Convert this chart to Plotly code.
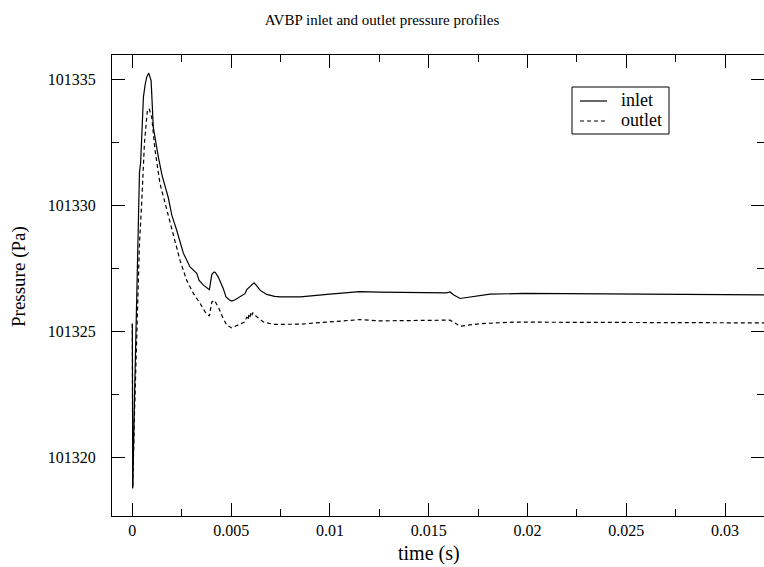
import plotly.graph_objects as go

# Inlet pressure history
t_inlet = [0, 0.00002, 0.0001, 0.00019, 0.00025, 0.0003, 0.00036, 0.00042, 0.0005,
           0.00056, 0.00065, 0.00073, 0.00083, 0.00095, 0.00106, 0.0012, 0.00132,
           0.0015, 0.00166, 0.00182, 0.002, 0.00225, 0.00258, 0.00292, 0.00326,
           0.00338, 0.0036, 0.0039, 0.00402, 0.00412, 0.00419, 0.00435, 0.0046,
           0.00474, 0.0049, 0.00503, 0.0052, 0.00537, 0.0057, 0.00579, 0.006,
           0.00616, 0.0063, 0.00646, 0.0068, 0.0072, 0.00748, 0.0085, 0.01, 0.0115,
           0.0125, 0.0159, 0.01608, 0.01625, 0.01659, 0.0169, 0.01726, 0.0181,
           0.0198, 0.0243, 0.0294, 0.032]
p_inlet = [101325.3, 101318.8, 101322.0, 101325.2, 101328.5, 101330.4, 101331.3,
           101331.7, 101333.2, 101334.3, 101334.8, 101335.1, 101335.25, 101334.95,
           101333.1, 101332.4, 101331.9, 101331.2, 101330.75, 101330.3, 101329.6,
           101329.0, 101328.1, 101327.55, 101327.3, 101327.02, 101326.83, 101326.65,
           101327.25, 101327.35, 101327.34, 101327.15, 101326.7, 101326.36,
           101326.25, 101326.2, 101326.25, 101326.34, 101326.49, 101326.65,
           101326.8, 101326.92, 101326.8, 101326.63, 101326.46, 101326.38,
           101326.36, 101326.36, 101326.47, 101326.57, 101326.55, 101326.52,
           101326.56, 101326.45, 101326.3, 101326.33, 101326.39, 101326.47,
           101326.5, 101326.47, 101326.44, 101326.44]

# Outlet pressure history
t_outlet = [0, 0.00002, 0.0001, 0.00019, 0.00028, 0.00036, 0.00048, 0.00061,
            0.00076, 0.00085, 0.00098, 0.00115, 0.0014, 0.00174, 0.00208, 0.00241,
            0.00275, 0.00309, 0.00343, 0.00368, 0.0039, 0.00402, 0.00415, 0.00435,
            0.0046, 0.00478, 0.00503, 0.00545, 0.0057, 0.00579, 0.00585, 0.0059,
            0.00595, 0.006, 0.00605, 0.00609, 0.0063, 0.00663, 0.00714, 0.0085,
            0.01, 0.0115, 0.0125, 0.0159, 0.01608, 0.01659, 0.0176, 0.0193, 0.0243,
            0.032]
p_outlet = [101325.3, 101318.75, 101321.5, 101323.85, 101326.5, 101328.48,
            101330.2, 101332.45, 101333.77, 101333.84, 101333.5, 101332.18,
            101330.86, 101329.8, 101328.74, 101327.82, 101327.02, 101326.5,
            101326.1, 101325.77, 101325.6, 101326.16, 101326.23, 101325.96,
            101325.5, 101325.24, 101325.13, 101325.27, 101325.37, 101325.57,
            101325.45, 101325.65, 101325.55, 101325.72, 101325.62, 101325.74,
            101325.57, 101325.37, 101325.27, 101325.28, 101325.38, 101325.46,
            101325.41, 101325.41, 101325.44, 101325.2, 101325.3, 101325.36,
            101325.35, 101325.33]

x_ticks = [0, 0.005, 0.01, 0.015, 0.02, 0.025, 0.03]
x_tick_labels = ["0", "0.005", "0.01", "0.015", "0.02", "0.025", "0.03"]
y_ticks = [101320, 101325, 101330, 101335]
y_tick_labels = ["101320", "101325", "101330", "101335"]

series_names = ["inlet", "outlet"]
series_dash = ["solid", "4px,3px"]

FONT = "Liberation Serif, Times New Roman, serif"
W, H = 764, 567
L, R, T, B = 112, 0, 55, 51
PW, PH = W - L - R, H - T - B


def px_x(px):
    """Horizontal pixel position -> paper fraction."""
    return (px - L) / PW


def px_y(py):
    """Vertical pixel position -> paper fraction."""
    return 1 - (py - T) / PH


fig = go.Figure()
for name, dash, tx, py_ in zip(series_names, series_dash,
                               [t_inlet, t_outlet], [p_inlet, p_outlet]):
    fig.add_trace(go.Scatter(x=tx, y=py_, mode="lines", name=name,
                             showlegend=False,
                             line=dict(color="black", width=1.2, dash=dash)))

axis_common = dict(
    showline=True, linecolor="black", linewidth=1.3, mirror="allticks",
    ticks="inside", ticklen=13, tickwidth=1.2, tickcolor="black",
    showgrid=False, zeroline=False,
    tickfont=dict(family=FONT, size=16, color="black"),
)

fig.update_xaxes(
    range=[-0.00103, 0.03197], tickmode="array", tickvals=x_ticks,
    ticktext=x_tick_labels, ticklabelstandoff=0,
    minor=dict(dtick=0.0025, tick0=0, ticks="inside", ticklen=7,
               tickwidth=1.2, tickcolor="black", showgrid=False),
    **axis_common,
)
fig.update_yaxes(
    range=[101317.66, 101335.97], tickmode="array", tickvals=y_ticks,
    ticktext=y_tick_labels, ticklabelstandoff=12,
    minor=dict(dtick=2.5, tick0=101320, ticks="inside", ticklen=7,
               tickwidth=1.2, tickcolor="black", showgrid=False),
    **axis_common,
)

# Legend box with line samples and labels
legend_box = (572, 87, 669, 134)
legend_rows = [101, 121]
shapes = [dict(type="rect", xref="paper", yref="paper",
               x0=px_x(legend_box[0]), x1=px_x(legend_box[2]),
               y0=px_y(legend_box[3]), y1=px_y(legend_box[1]),
               line=dict(color="black", width=1), fillcolor="white", layer="above")]
annotations = []
for name, dash, row in zip(series_names, series_dash, legend_rows):
    shapes.append(dict(type="line", xref="paper", yref="paper",
                       x0=px_x(580), x1=px_x(607), y0=px_y(row), y1=px_y(row),
                       line=dict(color="black", width=1.2, dash=dash), layer="above"))
    annotations.append(dict(text=name, x=px_x(619), y=px_y(row - 1),
                            xref="paper", yref="paper",
                            xanchor="left", yanchor="middle", showarrow=False,
                            font=dict(family=FONT, size=18, color="black")))

annotations += [
    dict(text="time (s)", x=px_x(429), xref="paper", y=px_y(553), yref="paper",
         xanchor="center", yanchor="middle", showarrow=False,
         font=dict(family=FONT, size=20, color="black")),
    dict(text="Pressure (Pa)", x=px_x(19), xref="paper", y=px_y(277), yref="paper",
         xanchor="center", yanchor="middle", showarrow=False, textangle=-90,
         font=dict(family=FONT, size=19, color="black")),
]

fig.update_layout(
    width=W, height=H,
    margin=dict(l=L, r=R, t=T, b=B),
    paper_bgcolor="white", plot_bgcolor="white",
    font=dict(family=FONT, color="black"),
    title=dict(text="AVBP inlet and outlet pressure profiles",
               x=382 / W, xref="container", xanchor="center",
               y=1 - 20 / H, yref="container", yanchor="middle",
               font=dict(family=FONT, size=15, color="black")),
    showlegend=False,
    shapes=shapes,
    annotations=annotations,
)

fig.write_html("out.html")
